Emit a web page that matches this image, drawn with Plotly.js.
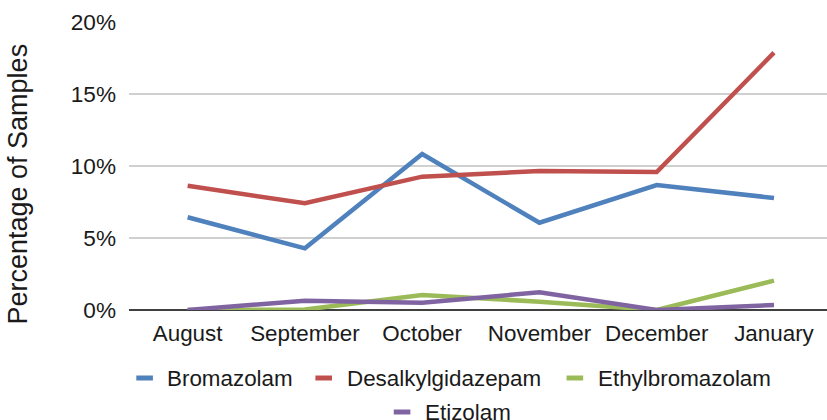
<!DOCTYPE html>
<html>
<head>
<meta charset="utf-8">
<script src="https://cdn.plot.ly/plotly-3.0.1.min.js"></script>
<style>html,body{margin:0;padding:0;background:#fff;}#chart{width:827px;height:420px;}</style>
</head>
<body>
<div id="chart"></div>
<script>
var months = ["August", "September", "October", "November", "December", "January"];
var bromazolam = [0.0644, 0.0428, 0.1083, 0.0606, 0.0868, 0.0778];
var desalkylgidazepam = [0.0863, 0.0741, 0.0926, 0.0965, 0.0958, 0.1787];
var ethylbromazolam = [0.0, 0.0003, 0.0104, 0.0058, 0.0, 0.0204];
var etizolam = [0.0, 0.0065, 0.0051, 0.0123, 0.0, 0.0035];
var yTickVals = [0, 0.05, 0.10, 0.15, 0.20];
var yTickText = ["0%", "5%", "10%", "15%", "20%"];
var seriesNames = ["Bromazolam", "Desalkylgidazepam", "Ethylbromazolam", "Etizolam"];
var seriesColors = ["#4F81BD", "#C0504D", "#9BBB59", "#8064A2"];
var yTitle = "Percentage of Samples";

var seriesData = [bromazolam, desalkylgidazepam, ethylbromazolam, etizolam];

var W = 827, H = 420, L = 129.4, R = 0, T = 22, B = 110;
var plotW = W - L - R, plotH = H - T - B;
function px2x(px) { return (px - L) / plotW; }
function px2y(py) { return (H - B - py) / plotH; }

var traces = seriesNames.map(function (n, i) {
  return {
    type: "scatter",
    mode: "lines",
    name: n,
    x: months,
    y: seriesData[i],
    line: {color: seriesColors[i], width: 4.5},
    hoverinfo: "skip",
    showlegend: false
  };
});

// custom legend layout (pixel positions of the sample strokes)
var legendSlots = [
  {x0: 136.7, y: 378},
  {x0: 315.7, y: 378},
  {x0: 566.7, y: 378},
  {x0: 394.0, y: 412}
];
var shapes = [], annotations = [];
seriesNames.forEach(function (n, i) {
  var s = legendSlots[i];
  shapes.push({
    type: "line", xref: "paper", yref: "paper",
    x0: px2x(s.x0), x1: px2x(s.x0 + 16.6),
    y0: px2y(s.y), y1: px2y(s.y),
    line: {color: seriesColors[i], width: 5}
  });
  annotations.push({
    xref: "paper", yref: "paper",
    x: px2x(s.x0 + 16.6 + 12.5), y: px2y(s.y),
    xanchor: "left", yanchor: "middle",
    text: n, showarrow: false,
    font: {size: 22.4, color: "#1a1a1a"}
  });
});
annotations.push({
  xref: "paper", yref: "paper",
  x: px2x(18), y: px2y(184),
  xanchor: "center", yanchor: "middle",
  text: yTitle, textangle: -90, showarrow: false,
  font: {size: 27, color: "#1a1a1a"}
});

var layout = {
  width: W,
  height: H,
  margin: {l: L, r: R, t: T, b: B, pad: 0},
  paper_bgcolor: "#ffffff",
  plot_bgcolor: "#ffffff",
  font: {family: "Liberation Sans, Arial, sans-serif", color: "#1a1a1a", size: 22},
  showlegend: false,
  shapes: shapes,
  annotations: annotations,
  xaxis: {
    type: "category",
    range: [-0.5, 5.452],
    showgrid: false,
    zeroline: false,
    showline: false,
    ticks: "",
    ticklabelstandoff: 8,
    tickfont: {size: 22.4, color: "#1a1a1a"},
    fixedrange: true
  },
  yaxis: {
    range: [0, 0.2],
    tickvals: yTickVals,
    ticktext: yTickText,
    showgrid: true,
    gridcolor: "#D0D0D0",
    gridwidth: 1.3,
    zeroline: true,
    zerolinecolor: "#404040",
    zerolinewidth: 1.3,
    showline: false,
    ticks: "",
    ticklabelstandoff: 12,
    tickfont: {size: 22.6, color: "#1a1a1a"},
    automargin: false,
    fixedrange: true
  }
};

Plotly.newPlot("chart", traces, layout, {staticPlot: true, displayModeBar: false});
</script>
</body>
</html>
